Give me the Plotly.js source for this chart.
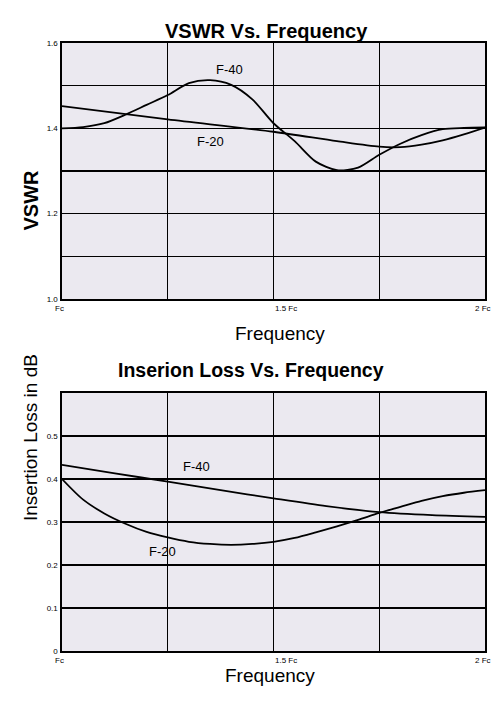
<!DOCTYPE html>
<html>
<head>
<meta charset="utf-8">
<script src="https://cdn.plot.ly/plotly-3.0.1.min.js"></script>
<style>html,body{margin:0;padding:0;background:#fff;}#chart{width:493px;height:702px;}</style>
</head>
<body>
<div id="chart"></div>
<script>
// VSWR chart data
var vswrF40Freq = [1.0, 1.05, 1.10, 1.15, 1.20, 1.25, 1.30, 1.35, 1.40, 1.45, 1.50, 1.55, 1.60, 1.65, 1.70, 1.75, 1.80, 1.85, 1.90, 1.95, 2.0];
var vswrF40 = [1.400, 1.403, 1.412, 1.432, 1.455, 1.478, 1.506, 1.513, 1.502, 1.468, 1.412, 1.370, 1.322, 1.302, 1.308, 1.338, 1.364, 1.384, 1.398, 1.401, 1.402];
var vswrF20Freq = [1.0, 1.25, 1.5, 1.65, 1.75, 1.80, 1.85, 1.90, 1.95, 2.0];
var vswrF20 = [1.452, 1.421, 1.392, 1.370, 1.357, 1.356, 1.362, 1.372, 1.386, 1.402];

// Insertion loss chart data
var lossF40Freq = [1.0, 1.125, 1.25, 1.375, 1.5, 1.625, 1.75, 1.875, 2.0];
var lossF40 = [0.433, 0.413, 0.394, 0.374, 0.355, 0.337, 0.323, 0.316, 0.312];
var lossF20Freq = [1.0, 1.05, 1.10, 1.15, 1.20, 1.25, 1.30, 1.35, 1.40, 1.45, 1.50, 1.55, 1.60, 1.65, 1.70, 1.75, 1.80, 1.85, 1.90, 1.95, 2.0];
var lossF20 = [0.400, 0.352, 0.320, 0.296, 0.277, 0.264, 0.254, 0.249, 0.247, 0.249, 0.254, 0.263, 0.276, 0.290, 0.305, 0.321, 0.335, 0.349, 0.360, 0.368, 0.374];

// Tick labels
var vswrTickVals = [1.0, 1.1, 1.2, 1.3, 1.4, 1.5, 1.6];
var vswrTickText = ['1.0', '', '1.2', '', '1.4', '', '1.6'];
var lossTickVals = [0, 0.1, 0.2, 0.3, 0.4, 0.5, 0.6];
var lossTickText = ['0', '0.1', '0.2', '0.3', '0.4', '0.5', ''];
var freqTickVals = [1.0, 1.5, 2.0];
var freqTickText = ['Fc', '1.5 Fc', '2 Fc'];

var FONT = 'Liberation Sans, Arial, sans-serif';
var lineStyle = {color: '#000', width: 1.8, shape: 'spline', smoothing: 0.8};

var traces = [
  {x: vswrF40Freq, y: vswrF40, xaxis: 'x', yaxis: 'y', mode: 'lines', line: lineStyle, name: 'F-40'},
  {x: vswrF20Freq, y: vswrF20, xaxis: 'x', yaxis: 'y', mode: 'lines', line: lineStyle, name: 'F-20'},
  {x: lossF40Freq, y: lossF40, xaxis: 'x2', yaxis: 'y2', mode: 'lines', line: lineStyle, name: 'F-40'},
  {x: lossF20Freq, y: lossF20, xaxis: 'x2', yaxis: 'y2', mode: 'lines', line: lineStyle, name: 'F-20'}
];

function xAxis(anchor) {
  return {
    anchor: anchor, range: [1, 2], dtick: 0.25, tick0: 1,
    showgrid: true, gridcolor: '#000', gridwidth: 1.4,
    showline: true, mirror: true, linecolor: '#000', linewidth: 1.6,
    showticklabels: false, ticks: '', zeroline: false, fixedrange: true
  };
}
function yAxis(anchor, dom, rng, vals, txt) {
  return {
    anchor: anchor, domain: dom, range: rng,
    tickmode: 'array', tickvals: vals, ticktext: txt,
    showgrid: true, gridcolor: '#000', gridwidth: 1.4,
    showline: true, mirror: true, linecolor: '#000', linewidth: 1.6,
    ticks: '', zeroline: false, tickfont: {family: FONT, size: 8, color: '#000'},
    ticklabelstandoff: 1, fixedrange: true
  };
}

var annotations = [
  {text: '<b>VSWR Vs. Frequency</b>', xref: 'paper', yref: 'paper', x: 0.4846, y: 0.9744, showarrow: false, font: {family: FONT, size: 20, color: '#000'}},
  {text: 'Frequency', xref: 'paper', yref: 'paper', x: 0.515, y: 0.5256, showarrow: false, font: {family: FONT, size: 19, color: '#000'}},
  {text: '<b>Inserion Loss Vs. Frequency</b>', xref: 'paper', yref: 'paper', x: 0.447, y: 0.473, showarrow: false, font: {family: FONT, size: 19.5, color: '#000'}},
  {text: 'Frequency', xref: 'paper', yref: 'paper', x: 0.492, y: 0.0199, showarrow: false, font: {family: FONT, size: 19, color: '#000'}},
  {text: '<b>VSWR</b>', xref: 'paper', yref: 'paper', x: -0.104, y: 0.7607, textangle: -90, showarrow: false, font: {family: FONT, size: 20, color: '#000'}},
  {text: 'Insertion Loss in dB', xref: 'paper', yref: 'paper', x: -0.104, y: 0.255, textangle: -90, showarrow: false, font: {family: FONT, size: 19, color: '#000'}},
  {text: 'F-40', xref: 'x', yref: 'y', x: 1.397, y: 1.537, showarrow: false, font: {family: FONT, size: 13, color: '#000'}},
  {text: 'F-20', xref: 'x', yref: 'y', x: 1.35, y: 1.369, showarrow: false, font: {family: FONT, size: 13, color: '#000'}},
  {text: 'F-40', xref: 'x2', yref: 'y2', x: 1.319, y: 0.429, showarrow: false, font: {family: FONT, size: 13, color: '#000'}},
  {text: 'F-20', xref: 'x2', yref: 'y2', x: 1.237, y: 0.231, showarrow: false, font: {family: FONT, size: 13, color: '#000'}}
];
var xShifts = [-3, 12, -2];
for (var i = 0; i < freqTickVals.length; i++) {
  annotations.push({text: freqTickText[i], xref: 'x', yref: 'y', x: freqTickVals[i], y: 1.0, yshift: -10, xshift: xShifts[i], showarrow: false, font: {family: FONT, size: 8, color: '#000'}});
  annotations.push({text: freqTickText[i], xref: 'x2', yref: 'y2', x: freqTickVals[i], y: 0, yshift: -9, xshift: xShifts[i], showarrow: false, font: {family: FONT, size: 8, color: '#000'}});
}

var layout = {
  width: 493, height: 702,
  margin: {l: 62, r: 8, t: 0, b: 0},
  paper_bgcolor: '#fff', plot_bgcolor: '#ebe9f0',
  showlegend: false,
  xaxis: xAxis('y'),
  yaxis: yAxis('x', [0.5741, 0.9387], [1.0, 1.6], vswrTickVals, vswrTickText),
  xaxis2: xAxis('y2'),
  yaxis2: yAxis('x2', [0.0726, 0.4402], [0, 0.6], lossTickVals, lossTickText),
  annotations: annotations
};

Plotly.newPlot('chart', traces, layout, {displayModeBar: false, staticPlot: true});
</script>
</body>
</html>
